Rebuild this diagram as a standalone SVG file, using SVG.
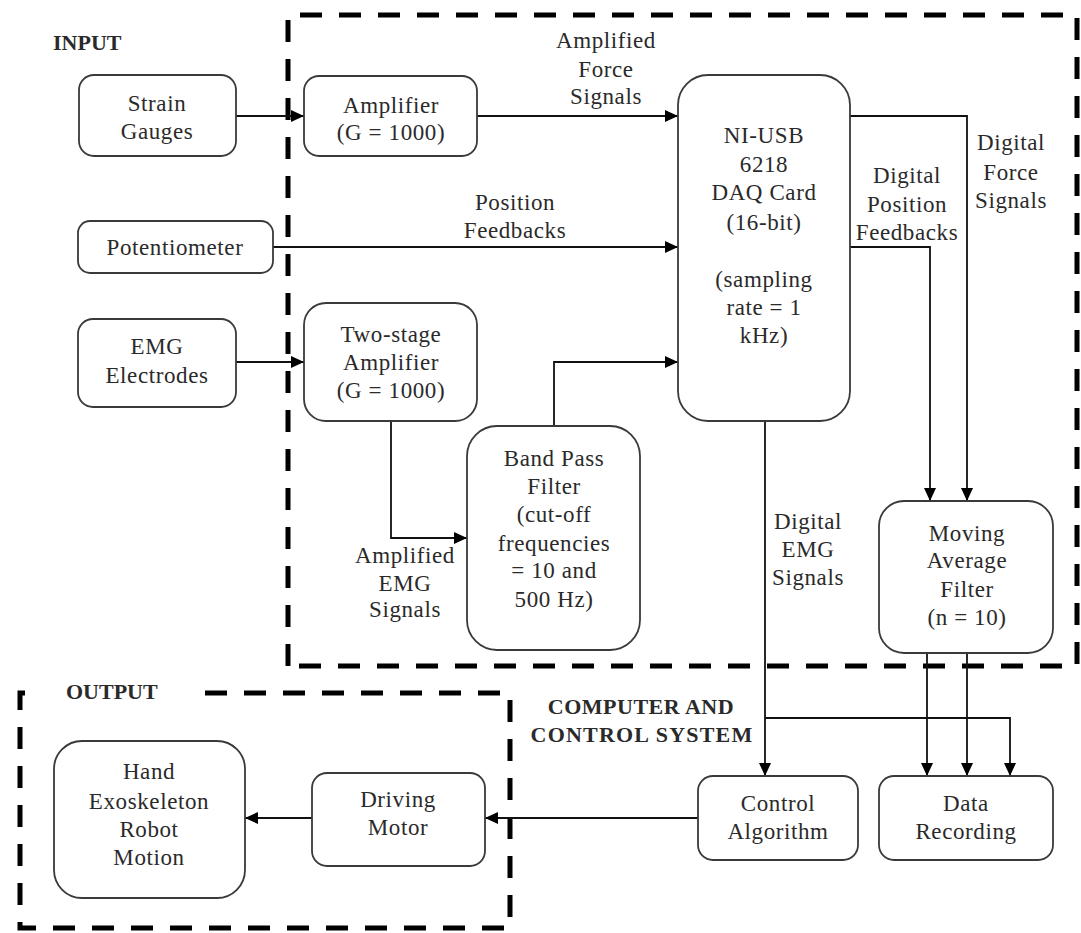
<svg xmlns="http://www.w3.org/2000/svg" width="1081" height="933" viewBox="0 0 1081 933">
<style>
.bg{fill:#fff}
.node{fill:#fff;stroke:#3a3a3a;stroke-width:1.8}
.t{font-family:"Liberation Serif","Times New Roman",serif;font-size:23px;fill:#2a2a2a;text-anchor:middle;letter-spacing:0.6px}
.b{font-family:"Liberation Serif","Times New Roman",serif;font-size:22px;font-weight:bold;fill:#2a2a2a}
.dash{fill:none;stroke:#000;stroke-width:5;stroke-dasharray:22 17}
.c{fill:none;stroke:#111;stroke-width:1.8}
</style>
<defs>
<marker id="ah" viewBox="0 0 13 12" refX="13" refY="6" markerWidth="13" markerHeight="12" markerUnits="userSpaceOnUse" orient="auto">
<path d="M0,0 L13,6 L0,12 Z" fill="#000"/>
</marker>
</defs>
<rect class="bg" x="0" y="0" width="1081" height="933"/>

<g id="boundaries">
<path class="dash" d="M288,666 V15 H1077 V666 H288"/>
<path class="dash" d="M205,693 H510 V928 H20 V693 H35"/>
</g>

<g id="labels">
<text class="b" x="53" y="50">INPUT</text>
<text class="b" x="66" y="699">OUTPUT</text>
<text class="b" x="641" y="714" text-anchor="middle" style="letter-spacing:0.5px">COMPUTER AND</text>
<text class="b" x="642" y="742" text-anchor="middle" style="letter-spacing:1.2px">CONTROL SYSTEM</text>
</g>

<g id="connectors">
<path class="c" d="M236,116 H304" marker-end="url(#ah)"/>
<path class="c" d="M477,116 H678" marker-end="url(#ah)"/>
<path class="c" d="M273,247 H678" marker-end="url(#ah)"/>
<path class="c" d="M236,362 H304" marker-end="url(#ah)"/>
<path class="c" d="M391,421 V538 H467" marker-end="url(#ah)"/>
<path class="c" d="M554,426 V362 H678" marker-end="url(#ah)"/>
<path class="c" d="M850,116 H967 V501" marker-end="url(#ah)"/>
<path class="c" d="M850,247 H930 V501" marker-end="url(#ah)"/>
<path class="c" d="M765,421 V776" marker-end="url(#ah)"/>
<path class="c" d="M765,718 H1010 V776" marker-end="url(#ah)"/>
<path class="c" d="M927,653 V776" marker-end="url(#ah)"/>
<path class="c" d="M967,653 V776" marker-end="url(#ah)"/>
<path class="c" d="M698,818 H485" marker-end="url(#ah)"/>
<path class="c" d="M312,818 H245" marker-end="url(#ah)"/>
<text class="t" x="606" y="48">Amplified</text>
<text class="t" x="606" y="77">Force</text>
<text class="t" x="606" y="104">Signals</text>
<text class="t" x="515" y="210">Position</text>
<text class="t" x="515" y="238">Feedbacks</text>
<text class="t" x="405" y="563">Amplified</text>
<text class="t" x="405" y="591">EMG</text>
<text class="t" x="405" y="617">Signals</text>
<text class="t" x="907" y="183">Digital</text>
<text class="t" x="907" y="212">Position</text>
<text class="t" x="907" y="240">Feedbacks</text>
<text class="t" x="1011" y="150">Digital</text>
<text class="t" x="1011" y="180">Force</text>
<text class="t" x="1011" y="208">Signals</text>
<text class="t" x="808" y="529">Digital</text>
<text class="t" x="808" y="557">EMG</text>
<text class="t" x="808" y="585">Signals</text>
</g>

<g id="strain-gauges">
<rect class="node" x="79" y="75" width="157" height="81" rx="15"/>
<text class="t" x="157" y="111">Strain</text>
<text class="t" x="157" y="139">Gauges</text>
</g>
<g id="potentiometer">
<rect class="node" x="78" y="221" width="195" height="52" rx="12"/>
<text class="t" x="175" y="255">Potentiometer</text>
</g>
<g id="emg-electrodes">
<rect class="node" x="78" y="319" width="158" height="88" rx="15"/>
<text class="t" x="157" y="354">EMG</text>
<text class="t" x="157" y="383">Electrodes</text>
</g>
<g id="amplifier">
<rect class="node" x="304" y="76" width="173" height="80" rx="15"/>
<text class="t" x="391" y="113">Amplifier</text>
<text class="t" x="391" y="140">(G = 1000)</text>
</g>
<g id="two-stage-amplifier">
<rect class="node" x="304" y="303" width="173" height="118" rx="22"/>
<text class="t" x="391" y="342">Two-stage</text>
<text class="t" x="391" y="370">Amplifier</text>
<text class="t" x="391" y="398">(G = 1000)</text>
</g>
<g id="band-pass-filter">
<rect class="node" x="467" y="426" width="173" height="224" rx="30"/>
<text class="t" x="554" y="466">Band Pass</text>
<text class="t" x="554" y="494">Filter</text>
<text class="t" x="554" y="522">(cut-off</text>
<text class="t" x="554" y="551">frequencies</text>
<text class="t" x="554" y="578">= 10 and</text>
<text class="t" x="554" y="607">500 Hz)</text>
</g>
<g id="daq-card">
<rect class="node" x="678" y="75" width="172" height="346" rx="30"/>
<text class="t" x="764" y="143">NI-USB</text>
<text class="t" x="764" y="172">6218</text>
<text class="t" x="764" y="200">DAQ Card</text>
<text class="t" x="764" y="230">(16-bit)</text>
<text class="t" x="764" y="287">(sampling</text>
<text class="t" x="764" y="315">rate = 1</text>
<text class="t" x="764" y="343">kHz)</text>
</g>
<g id="moving-average-filter">
<rect class="node" x="879" y="501" width="174" height="152" rx="25"/>
<text class="t" x="967" y="541">Moving</text>
<text class="t" x="967" y="568">Average</text>
<text class="t" x="967" y="597">Filter</text>
<text class="t" x="967" y="625">(n = 10)</text>
</g>
<g id="control-algorithm">
<rect class="node" x="698" y="776" width="160" height="84" rx="15"/>
<text class="t" x="778" y="811">Control</text>
<text class="t" x="778" y="839">Algorithm</text>
</g>
<g id="data-recording">
<rect class="node" x="879" y="776" width="174" height="84" rx="15"/>
<text class="t" x="966" y="811">Data</text>
<text class="t" x="966" y="839">Recording</text>
</g>
<g id="driving-motor">
<rect class="node" x="312" y="773" width="173" height="93" rx="15"/>
<text class="t" x="398" y="807">Driving</text>
<text class="t" x="398" y="835">Motor</text>
</g>
<g id="hand-exoskeleton">
<rect class="node" x="54" y="741" width="191" height="157" rx="28"/>
<text class="t" x="149" y="779">Hand</text>
<text class="t" x="149" y="809">Exoskeleton</text>
<text class="t" x="149" y="837">Robot</text>
<text class="t" x="149" y="865">Motion</text>
</g>
</svg>
